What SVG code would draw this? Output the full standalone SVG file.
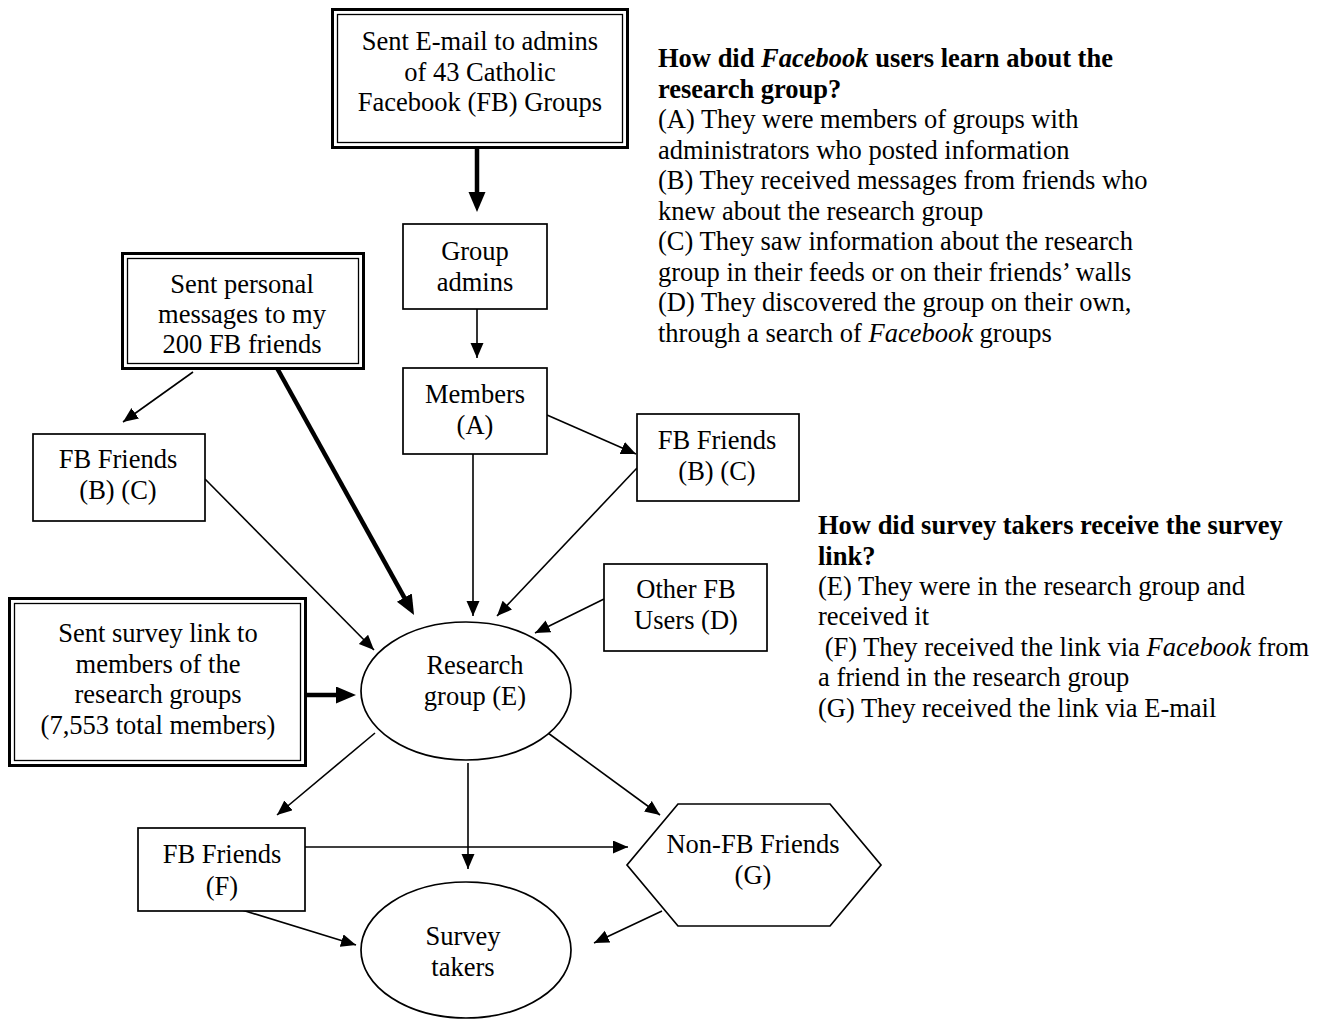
<svg xmlns="http://www.w3.org/2000/svg" width="1326" height="1020" viewBox="0 0 1326 1020">
<style>
text{font-family:"Liberation Serif","Times New Roman",serif;font-size:26.5px;fill:#000}
.c{text-anchor:middle}
.b{font-weight:bold}
.i{font-style:italic}
.box{fill:#fff;stroke:#000;stroke-width:1.7}
.outer{fill:#fff;stroke:#000;stroke-width:3}
.inner{fill:none;stroke:#000;stroke-width:1.3}
.thin{stroke:#000;stroke-width:1.6;fill:none;marker-end:url(#ah)}
.thick{stroke:#000;stroke-width:4.5;fill:none;marker-end:url(#ahb)}
</style>
<defs>
<marker id="ah" markerUnits="userSpaceOnUse" markerWidth="16" markerHeight="14" refX="15" refY="6.5" orient="auto" viewBox="0 0 16 14">
<path d="M0,0 L15,6.5 L0,13 z" fill="#000"/>
</marker>
<marker id="ahb" markerUnits="userSpaceOnUse" markerWidth="21" markerHeight="18" refX="10" refY="8.5" orient="auto" viewBox="0 0 21 18">
<path d="M0,0 L20,8.5 L0,17 z" fill="#000"/>
</marker>
</defs>

<g id="connectors">
<line class="thick" x1="477" y1="149" x2="477" y2="202"/>
<line class="thin" x1="477" y1="309" x2="477" y2="358"/>
<line class="thick" x1="277" y1="368" x2="409.2" y2="606.3"/>
<line class="thick" x1="307" y1="695" x2="346" y2="695"/>
<line class="thin" x1="193" y1="372" x2="123" y2="422"/>
<line class="thin" x1="205" y1="479" x2="374" y2="650"/>
<line class="thin" x1="473" y1="454" x2="473" y2="616"/>
<line class="thin" x1="547" y1="415" x2="636" y2="454"/>
<line class="thin" x1="637" y1="468" x2="497" y2="616"/>
<line class="thin" x1="604" y1="599" x2="535" y2="633"/>
<line class="thin" x1="375" y1="733" x2="277" y2="815"/>
<line class="thin" x1="468" y1="763" x2="468" y2="869"/>
<line class="thin" x1="548" y1="733" x2="660" y2="815"/>
<line class="thin" x1="305" y1="847" x2="628" y2="847"/>
<line class="thin" x1="242" y1="910" x2="356" y2="945"/>
<line class="thin" x1="662" y1="911" x2="594" y2="943"/>
</g>

<g id="email-admins">
<rect class="outer" x="332.5" y="9.5" width="295" height="138"/>
<rect class="inner" x="337.5" y="14.5" width="285" height="128"/>
<text class="c" x="480" y="50">Sent E-mail to admins</text>
<text class="c" x="480" y="80.5">of 43 Catholic</text>
<text class="c" x="480" y="111">Facebook (FB) Groups</text>
</g>

<g id="group-admins">
<rect class="box" x="403" y="224" width="144" height="85"/>
<text class="c" x="475" y="260">Group</text>
<text class="c" x="475" y="291">admins</text>
</g>

<g id="personal-messages">
<rect class="outer" x="122.5" y="253.5" width="241" height="115"/>
<rect class="inner" x="127.5" y="258.5" width="231" height="105"/>
<text class="c" x="242" y="293">Sent personal</text>
<text class="c" x="242" y="323">messages to my</text>
<text class="c" x="242" y="353">200 FB friends</text>
</g>

<g id="fb-friends-left">
<rect class="box" x="33" y="434" width="172" height="87"/>
<text class="c" x="118" y="468">FB Friends</text>
<text class="c" x="118" y="499">(B) (C)</text>
</g>

<g id="members">
<rect class="box" x="403" y="368" width="144" height="86"/>
<text class="c" x="475" y="403">Members</text>
<text class="c" x="475" y="434">(A)</text>
</g>

<g id="fb-friends-right">
<rect class="box" x="637" y="414" width="162" height="87"/>
<text class="c" x="717" y="449">FB Friends</text>
<text class="c" x="717" y="480">(B) (C)</text>
</g>

<g id="other-users">
<rect class="box" x="604" y="564" width="163" height="87"/>
<text class="c" x="686" y="598">Other FB</text>
<text class="c" x="686" y="629">Users (D)</text>
</g>

<g id="survey-link">
<rect class="outer" x="9.5" y="598.5" width="296" height="167"/>
<rect class="inner" x="14.5" y="603.5" width="286" height="157"/>
<text class="c" x="158" y="642">Sent survey link to</text>
<text class="c" x="158" y="673">members of the</text>
<text class="c" x="158" y="703">research groups</text>
<text class="c" x="158" y="734">(7,553 total members)</text>
</g>

<g id="research-group">
<ellipse class="box" cx="466" cy="691" rx="105" ry="69"/>
<text class="c" x="475" y="674">Research</text>
<text class="c" x="475" y="705">group (E)</text>
</g>

<g id="fb-friends-f">
<rect class="box" x="138" y="828" width="167" height="83"/>
<text class="c" x="222" y="863">FB Friends</text>
<text class="c" x="222" y="895">(F)</text>
</g>

<g id="non-fb-friends">
<polygon class="box" points="678,804 830,804 881,865 830,926 678,926 627,865"/>
<text class="c" x="753" y="853">Non-FB Friends</text>
<text class="c" x="753" y="884">(G)</text>
</g>

<g id="survey-takers">
<ellipse class="box" cx="466" cy="950" rx="105" ry="68"/>
<text class="c" x="463" y="945">Survey</text>
<text class="c" x="463" y="976">takers</text>
</g>

<g id="legend-learn">
<text x="658" y="67" class="b">How did <tspan class="i">Facebook</tspan> users learn about the</text>
<text x="658" y="98" class="b">research group?</text>
<text x="658" y="128">(A) They were members of groups with</text>
<text x="658" y="159">administrators who posted information</text>
<text x="658" y="189">(B) They received messages from friends who</text>
<text x="658" y="220">knew about the research group</text>
<text x="658" y="250">(C) They saw information about the research</text>
<text x="658" y="281">group in their feeds or on their friends’ walls</text>
<text x="658" y="311">(D) They discovered the group on their own,</text>
<text x="658" y="342">through a search of <tspan class="i">Facebook</tspan> groups</text>
</g>

<g id="legend-survey">
<text x="818" y="534" class="b">How did survey takers receive the survey</text>
<text x="818" y="565" class="b">link?</text>
<text x="818" y="595">(E) They were in the research group and</text>
<text x="818" y="625">received it</text>
<text x="818" y="656" xml:space="preserve"> (F) They received the link via <tspan class="i">Facebook</tspan> from</text>
<text x="818" y="686">a friend in the research group</text>
<text x="818" y="717">(G) They received the link via E-mail</text>
</g>
</svg>
